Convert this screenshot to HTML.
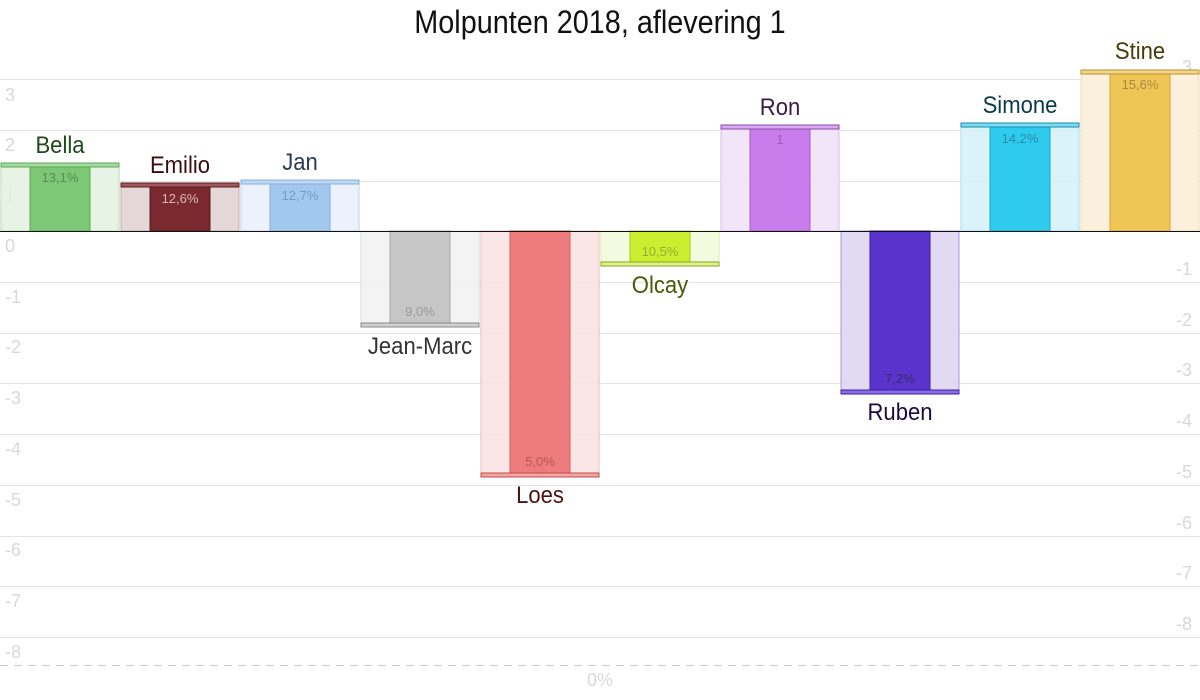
<!DOCTYPE html>
<html><head><meta charset="utf-8"><style>
body{margin:0;background:#fff;}
svg{display:block;font-family:"Liberation Sans",sans-serif;}
.ax{fill:#d8d8d8;font-size:18px;}
.pc{font-size:13px;text-anchor:middle;}
.nm{font-size:24px;text-anchor:middle;}
</style></head><body>
<svg width="1200" height="700" viewBox="0 0 1200 700">
<text x="0" y="33" text-anchor="middle" font-size="32" fill="#111" transform="translate(600,0) scale(0.9,1)">Molpunten 2018, aflevering 1</text>
<g stroke="#e4e4e4" stroke-width="1">
<line x1="0" x2="1200" y1="79.5" y2="79.5"/><line x1="0" x2="1200" y1="130.5" y2="130.5"/><line x1="0" x2="1200" y1="181.5" y2="181.5"/>
<line x1="0" x2="1200" y1="282.5" y2="282.5"/><line x1="0" x2="1200" y1="333.5" y2="333.5"/><line x1="0" x2="1200" y1="383.5" y2="383.5"/>
<line x1="0" x2="1200" y1="434.5" y2="434.5"/><line x1="0" x2="1200" y1="485.5" y2="485.5"/><line x1="0" x2="1200" y1="536.5" y2="536.5"/>
<line x1="0" x2="1200" y1="586.5" y2="586.5"/><line x1="0" x2="1200" y1="637.5" y2="637.5"/>
</g>
<line x1="0" x2="1200" y1="665.5" y2="665.5" stroke="#ccc" stroke-dasharray="8,6"/>
<text x="600" y="686" class="ax" text-anchor="middle" font-size="15">0%</text>
<g class="ax">
<text x="5" y="101">3</text><text x="5" y="151">2</text><text x="5" y="201">1</text><text x="5" y="252">0</text>
<text x="5" y="303">-1</text><text x="5" y="353">-2</text><text x="5" y="404">-3</text><text x="5" y="455">-4</text>
<text x="5" y="506">-5</text><text x="5" y="556">-6</text><text x="5" y="607">-7</text><text x="5" y="658">-8</text>
</g>
<g class="ax" text-anchor="end">
<text x="1192" y="73">3</text><text x="1192" y="124">2</text><text x="1192" y="174">1</text><text x="1192" y="224">0</text>
<text x="1192" y="275">-1</text><text x="1192" y="326">-2</text><text x="1192" y="376">-3</text><text x="1192" y="427">-4</text>
<text x="1192" y="478">-5</text><text x="1192" y="529">-6</text><text x="1192" y="579">-7</text><text x="1192" y="630">-8</text>
</g>
<g fill-opacity="0.85">
<!-- Bella -->
<rect x="1" y="163" width="118" height="68" fill="#e2f1e0" stroke="#b9dcb5"/>
<rect x="30" y="163" width="60" height="68" fill="#7cc877" stroke="#5aa955" fill-opacity="1"/>
<rect x="1" y="163" width="118" height="4" fill="#a6d9a2" stroke="#5aa955" fill-opacity="1"/>
<!-- Emilio -->
<rect x="121" y="183" width="118" height="48" fill="#e0d1d1" stroke="#c8a8a8"/>
<rect x="150" y="183" width="60" height="48" fill="#7a2a2e" stroke="#5a1a1e" fill-opacity="1"/>
<rect x="121" y="183" width="118" height="4" fill="#a05a5d" stroke="#5a1a1e" fill-opacity="1"/>
<!-- Jan -->
<rect x="241" y="180" width="118" height="51" fill="#e8f0fa" stroke="#bcd3ee"/>
<rect x="270" y="180" width="60" height="51" fill="#a2c8ef" stroke="#84aede" fill-opacity="1"/>
<rect x="241" y="180" width="118" height="4" fill="#c0d8f3" stroke="#84aede" fill-opacity="1"/>
<!-- Jean-Marc -->
<rect x="361" y="231" width="118" height="96" fill="#f1f1f1" stroke="#d8d8d8"/>
<rect x="390" y="231" width="60" height="96" fill="#c6c6c6" stroke="#a8a8a8" fill-opacity="1"/>
<rect x="361" y="323" width="118" height="4" fill="#d0d0d0" stroke="#888" fill-opacity="1"/>
<!-- Loes -->
<rect x="481" y="231" width="118" height="246" fill="#f9e2e2" stroke="#eeb8b8"/>
<rect x="510" y="231" width="60" height="246" fill="#ee7c7c" stroke="#d66060" fill-opacity="1"/>
<rect x="481" y="473" width="118" height="4" fill="#f2a5a5" stroke="#c24c4c" fill-opacity="1"/>
<!-- Olcay -->
<rect x="601" y="231" width="118" height="35" fill="#f1f9d9" stroke="#dbeda6"/>
<rect x="630" y="231" width="60" height="35" fill="#cbee2e" stroke="#a8c81c" fill-opacity="1"/>
<rect x="601" y="262" width="118" height="4" fill="#dcf28c" stroke="#8aa51a" fill-opacity="1"/>
<!-- Ron -->
<rect x="721" y="125" width="118" height="106" fill="#f1e0f8" stroke="#dcbcec"/>
<rect x="750" y="125" width="60" height="106" fill="#c87cec" stroke="#a85ecc" fill-opacity="1"/>
<rect x="721" y="125" width="118" height="4" fill="#d9a8f0" stroke="#8a4aa8" fill-opacity="1"/>
<!-- Ruben -->
<rect x="841" y="231" width="118" height="163" fill="#dcd4f0" stroke="#a898dc"/>
<rect x="870" y="231" width="60" height="163" fill="#5a32cc" stroke="#3e1ea8" fill-opacity="1"/>
<rect x="841" y="390" width="118" height="4" fill="#8a6ee0" stroke="#3e1ea8" fill-opacity="1"/>
<!-- Simone -->
<rect x="961" y="123" width="118" height="108" fill="#d4f0f8" stroke="#a8dcec"/>
<rect x="990" y="123" width="60" height="108" fill="#2ecbef" stroke="#1aa8cc" fill-opacity="1"/>
<rect x="961" y="123" width="118" height="4" fill="#7adcf4" stroke="#1a8aa8" fill-opacity="1"/>
<!-- Stine -->
<rect x="1081" y="70" width="118" height="161" fill="#faf0dc" stroke="#eedcb0" fill-opacity="1"/>
<rect x="1110" y="70" width="60" height="161" fill="#efc655" stroke="#d0a830" fill-opacity="1"/>
<rect x="1081" y="70" width="118" height="4" fill="#f2d48a" stroke="#b8922a" fill-opacity="1"/>
</g>
<g class="pc">
<text x="60" y="182" fill="#5b8a58">13,1%</text>
<text x="180" y="203" fill="#d9b8b8">12,6%</text>
<text x="300" y="200" fill="#7b9bc0">12,7%</text>
<text x="420" y="316" fill="#999">9,0%</text>
<text x="540" y="466" fill="#b85555">5,0%</text>
<text x="660" y="256" fill="#96ad3a">10,5%</text>
<text x="780" y="144" fill="#9a5cbc">1</text>
<text x="900" y="383" fill="#3a2a6a">7,2%</text>
<text x="1020" y="143" fill="#2a8aa8">14,2%</text>
<text x="1140" y="89" fill="#a88a3a">15,6%</text>
</g>
<g class="nm">
<text transform="translate(60,153) scale(0.92,1)" fill="#1d4a1a">Bella</text>
<text transform="translate(180,173) scale(0.92,1)" fill="#3a0c10">Emilio</text>
<text transform="translate(300,170) scale(0.92,1)" fill="#2a3a55">Jan</text>
<text transform="translate(420,354) scale(0.92,1)" fill="#333">Jean-Marc</text>
<text transform="translate(540,503) scale(0.92,1)" fill="#4a1414">Loes</text>
<text transform="translate(660,293) scale(0.92,1)" fill="#4a5a08">Olcay</text>
<text transform="translate(780,115) scale(0.92,1)" fill="#3a1a4a">Ron</text>
<text transform="translate(900,420) scale(0.92,1)" fill="#1a0a40">Ruben</text>
<text transform="translate(1020,113) scale(0.92,1)" fill="#0a3a4a">Simone</text>
<text transform="translate(1140,59) scale(0.92,1)" fill="#4a3a0a">Stine</text>
</g>
<line x1="0" x2="1200" y1="231.5" y2="231.5" stroke="#111" stroke-width="1"/>
</svg>
</body></html>
